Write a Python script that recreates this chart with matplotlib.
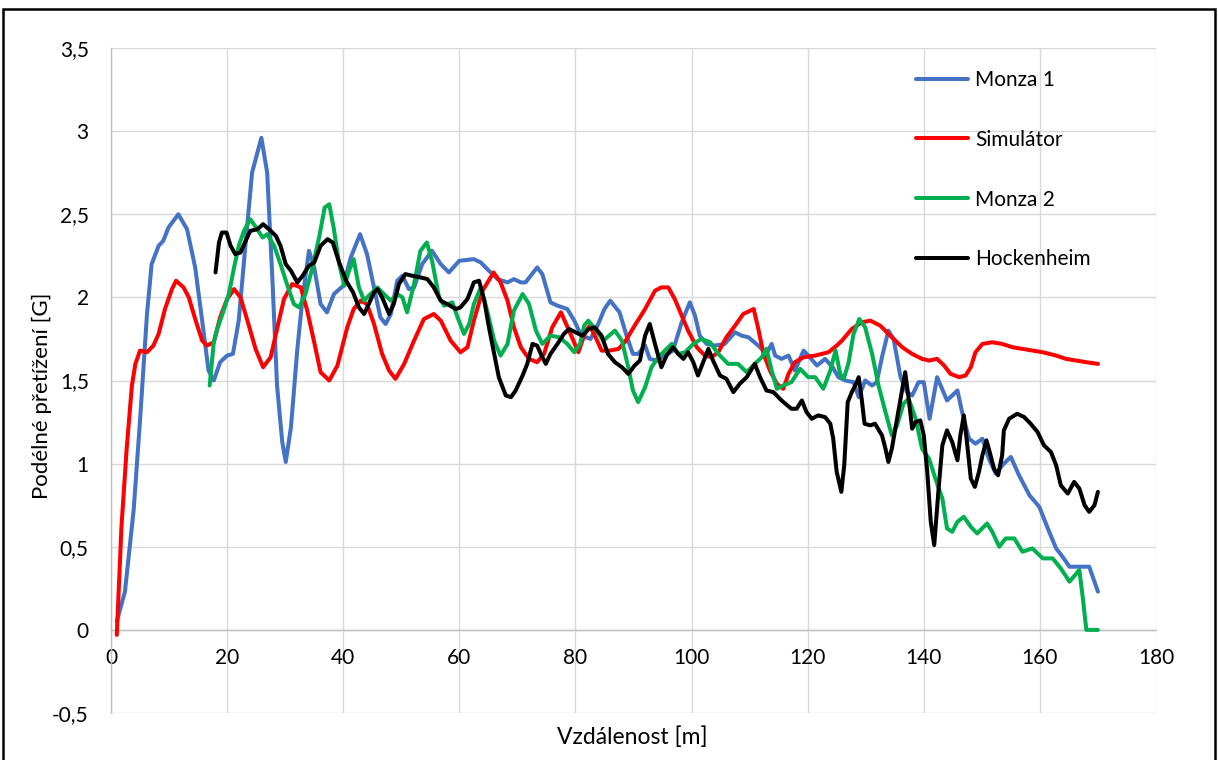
import matplotlib
matplotlib.use("Agg")
import matplotlib.pyplot as plt
from matplotlib.patches import Rectangle
from matplotlib.ticker import FuncFormatter

# ---- data ----
monza1_x = [1, 2.4, 3.9, 5.0, 6.2, 7.0, 8.2, 9.0, 9.9, 11.6, 13.1, 14.5, 15.7, 16.8, 17.7, 18.8,
            20, 21, 22, 23.2, 24.3, 25.9, 26.9, 27.8, 28.6, 29.5, 30.1, 31, 32.1, 33, 34.1, 35,
            36.1, 37.2, 38.4, 40, 41.3, 42.9, 44.1, 45.3, 46.4, 47.3, 48.2, 49.3, 50.2, 51.3,
            52.2, 53.6, 55.3, 56.8, 58.2, 60, 62.5, 63.7, 65.1, 66.6, 68.3, 69.4, 70.6, 71.4,
            72.3, 73.4, 74.3, 75.7, 76.9, 78.6, 79.8, 81, 82.6, 83.8, 85, 86, 87.6, 88.8, 89.9,
            90.8, 92, 92.8, 94, 95.4, 96.8, 98.3, 99.7, 100.6, 101.4, 102.6, 104, 105.7, 107.5,
            108.6, 109.8, 111.5, 112.9, 113.8, 114.4, 115.5, 116.7, 117.8, 119.3, 120.1, 121.6,
            123, 124.3, 125.3, 126.5, 127.9, 128.8, 129.9, 131.1, 131.9, 132.8, 133.9, 134.8,
            136, 137.1, 138, 139.1, 140, 141, 142.3, 144, 145.8, 146.6, 147.8, 148.9, 150.1,
            151.2, 152.4, 153.8, 155, 156.4, 158.2, 159.9, 161.6, 162.8, 163.9, 165.1, 166.8,
            168.5, 170]
monza1_y = [0.05, 0.23, 0.72, 1.26, 1.90, 2.20, 2.31, 2.34, 2.42, 2.50, 2.41, 2.18, 1.86, 1.56,
            1.50, 1.61, 1.65, 1.66, 1.86, 2.33, 2.75, 2.96, 2.75, 2.11, 1.47, 1.13, 1.01, 1.22,
            1.69, 2.00, 2.28, 2.18, 1.96, 1.91, 2.02, 2.07, 2.24, 2.38, 2.26, 2.06, 1.88, 1.84,
            1.90, 2.10, 2.13, 2.05, 2.06, 2.20, 2.28, 2.20, 2.15, 2.22, 2.23, 2.21, 2.16, 2.11,
            2.09, 2.11, 2.09, 2.09, 2.13, 2.18, 2.14, 1.97, 1.95, 1.93, 1.86, 1.77, 1.75, 1.83,
            1.93, 1.98, 1.91, 1.77, 1.66, 1.66, 1.71, 1.63, 1.62, 1.65, 1.68, 1.85, 1.97, 1.89,
            1.77, 1.72, 1.71, 1.72, 1.79, 1.77, 1.76, 1.71, 1.66, 1.72, 1.65, 1.63, 1.65, 1.56,
            1.68, 1.65, 1.59, 1.63, 1.58, 1.52, 1.50, 1.49, 1.40, 1.50, 1.47, 1.49, 1.64, 1.80,
            1.75, 1.52, 1.43, 1.41, 1.49, 1.49, 1.27, 1.52, 1.38, 1.44, 1.31, 1.15, 1.12, 1.15,
            1.03, 0.94, 1.00, 1.04, 0.93, 0.81, 0.74, 0.59, 0.49, 0.44, 0.38, 0.38, 0.38, 0.23]

sim_x = [1, 1.8, 2.7, 3.6, 4.2, 5.0, 6.2, 7.3, 8.2, 9.3, 10.5, 11.2, 12.5, 13.4, 14.5, 15.7, 16.5,
         17.7, 18.8, 20, 21.2, 22.3, 23.5, 24.9, 26.2, 27.5, 28.6, 29.8, 31.2, 32.7, 33.8, 35,
         36.1, 37.6, 39, 40.7, 41.8, 43, 44.1, 45.3, 46.7, 47.9, 49, 50.5, 52.2, 53.9, 55.6,
         56.8, 58.5, 60.2, 61.4, 62.5, 64, 65.9, 67.1, 68.3, 69.4, 70.6, 72, 73.4, 74.6, 76,
         77.5, 78.9, 80.5, 81.8, 82.5, 83.6, 84.5, 85.9, 87.4, 88.5, 90.2, 92, 93.7, 94.8, 96,
         97.1, 98.3, 99.4, 100.9, 102.3, 103.4, 104.6, 106, 107.5, 108.9, 110.1, 110.7, 111.5,
         112.4, 113.5, 114.7, 115.8, 116.7, 117.8, 119.3, 121.3, 123.6, 125, 125.9, 127.6,
         129.3, 130.8, 132.5, 134.5, 136.3, 138, 139.7, 140.9, 142.3, 143.5, 144.6, 146.1,
         147.2, 148.1, 148.9, 150.1, 151.8, 153.5, 155.3, 157, 158.7, 160.5, 162.8, 164.5,
         166.2, 168, 170]
sim_y = [-0.03, 0.62, 1.09, 1.47, 1.60, 1.68, 1.67, 1.71, 1.78, 1.93, 2.05, 2.10, 2.06, 2.00,
         1.87, 1.74, 1.71, 1.73, 1.88, 1.99, 2.05, 2.00, 1.86, 1.69, 1.58, 1.64, 1.81, 1.99,
         2.08, 2.06, 1.92, 1.73, 1.55, 1.50, 1.59, 1.82, 1.93, 1.98, 1.96, 1.84, 1.66, 1.56,
         1.51, 1.60, 1.74, 1.87, 1.90, 1.86, 1.74, 1.67, 1.70, 1.86, 2.04, 2.15, 2.09, 1.98,
         1.82, 1.70, 1.63, 1.61, 1.66, 1.82, 1.91, 1.80, 1.67, 1.80, 1.83, 1.75, 1.68, 1.68,
         1.69, 1.73, 1.83, 1.93, 2.04, 2.06, 2.06, 1.99, 1.89, 1.80, 1.70, 1.65, 1.64, 1.67,
         1.76, 1.83, 1.90, 1.92, 1.93, 1.81, 1.66, 1.56, 1.48, 1.45, 1.54, 1.61, 1.64, 1.65,
         1.67, 1.71, 1.74, 1.81, 1.85, 1.86, 1.83, 1.76, 1.70, 1.66, 1.63, 1.62, 1.63, 1.59,
         1.54, 1.52, 1.53, 1.58, 1.67, 1.72, 1.73, 1.72, 1.70, 1.69, 1.68, 1.67, 1.65, 1.63,
         1.62, 1.61, 1.60]

monza2_x = [17, 17.7, 18.3, 19.4, 20.3, 21.2, 22, 22.9, 24, 25.2, 26.1, 26.9, 28.1, 29.2, 30.4,
            31.5, 32.4, 33.5, 34.7, 35.9, 36.8, 37.6, 38.4, 39.3, 40.2, 41, 41.8, 42.7, 43.6,
            44.4, 45.9, 47, 48.2, 49.3, 50.2, 51, 52.2, 53.3, 54.4, 55.3, 56.5, 57.4, 58.8,
            59.7, 60.8, 61.7, 62.5, 63.7, 64.8, 66, 67.1, 68.3, 69.4, 70.9, 72, 73.2, 74.3,
            75.7, 77.2, 78.6, 79.8, 80.8, 81.5, 82.2, 83.4, 84.8, 86.8, 88, 89.1, 89.9, 90.8,
            92, 93.1, 94.3, 95.7, 96.6, 97.7, 98.9, 100.3, 101.7, 103.2, 104.6, 106.3, 108,
            109.5, 110.9, 112.1, 112.9, 113.8, 114.7, 115.8, 117.2, 118.7, 120.1, 121.3, 122.7,
            123.9, 124.8, 125.6, 126.2, 127, 127.9, 128.9, 129.9, 131.1, 132.2, 133.4, 134.5,
            135.4, 136.5, 137.4, 138.6, 139.7, 140.9, 142, 143.2, 144, 144.9, 145.8, 146.9,
            148.1, 149.2, 150.9, 151.8, 153, 154.1, 155.6, 157, 158.7, 160.5, 162.2, 163.6,
            165.1, 166.8, 167.4, 168, 170]
monza2_y = [1.47, 1.73, 1.81, 1.92, 2.02, 2.18, 2.31, 2.40, 2.47, 2.41, 2.36, 2.38, 2.31, 2.20,
            2.07, 1.96, 1.94, 2.02, 2.18, 2.37, 2.54, 2.56, 2.41, 2.20, 2.07, 2.16, 2.23, 2.06,
            1.98, 2.01, 2.06, 2.02, 1.98, 2.02, 2.00, 1.91, 2.08, 2.28, 2.33, 2.22, 2.00, 1.95,
            1.97, 1.88, 1.78, 1.84, 1.96, 2.06, 1.92, 1.74, 1.65, 1.72, 1.92, 2.02, 1.96, 1.80,
            1.72, 1.77, 1.76, 1.72, 1.67, 1.72, 1.83, 1.86, 1.81, 1.74, 1.80, 1.74, 1.58, 1.44,
            1.37, 1.46, 1.58, 1.64, 1.69, 1.72, 1.66, 1.67, 1.72, 1.75, 1.73, 1.66, 1.60, 1.60,
            1.55, 1.60, 1.64, 1.69, 1.56, 1.45, 1.47, 1.49, 1.57, 1.52, 1.52, 1.45, 1.56, 1.68,
            1.54, 1.51, 1.60, 1.78, 1.87, 1.82, 1.66, 1.47, 1.31, 1.17, 1.23, 1.36, 1.39, 1.27,
            1.09, 1.03, 0.91, 0.79, 0.61, 0.59, 0.65, 0.68, 0.62, 0.58, 0.64, 0.59, 0.50, 0.55,
            0.55, 0.47, 0.49, 0.43, 0.43, 0.37, 0.29, 0.36, 0.19, 0.00, 0.00]

hock_x = [18, 18.6, 19.1, 19.9, 20.6, 21.4, 22.3, 23.2, 24, 25.2, 26.2, 27.2, 28.4, 29.2, 30.1,
          31, 32.1, 33, 34.1, 35, 36.1, 37.3, 38.2, 39.3, 40.5, 41.7, 42.7, 43.6, 44.4, 45.3,
          45.9, 46.7, 47.9, 48.7, 49.6, 50.7, 51.9, 53.3, 54.5, 55.6, 56.8, 57.9, 59.4, 60.2,
          61.4, 62.5, 63.4, 64.3, 65.1, 66, 66.8, 68, 68.9, 69.7, 70.9, 71.7, 72.6, 73.4, 74.3,
          74.9, 75.7, 76.9, 78, 78.9, 80, 81.2, 82.3, 83.3, 84.5, 85.6, 86.8, 88, 89.1, 90.2,
          91.1, 92, 92.8, 93.7, 94.8, 95.7, 96.8, 97.7, 98.6, 99.4, 100.3, 101.1, 102, 102.9,
          103.7, 104.9, 106, 107.2, 108.3, 109.5, 110.9, 111.8, 112.9, 114.1, 115.5, 117.2,
          118.1, 119, 119.8, 120.7, 121.8, 123, 123.9, 124.4, 125, 125.8, 126.3, 126.9, 127.6,
          128.2, 128.8, 129.3, 129.8, 130.8, 131.6, 132.8, 133.4, 133.9, 134.5, 135.4, 136.3,
          136.8, 137.4, 138, 138.6, 139.4, 140, 140.6, 141.2, 141.8, 142.6, 143.2, 144, 144.9,
          145.8, 146.3, 146.9, 147.5, 148.1, 148.8, 149.5, 150.1, 150.8, 151.2, 152.1, 152.8,
          153.5, 153.8, 154.7, 156.1, 157.3, 158.4, 159.6, 160.7, 161.9, 162.8, 163.6, 164.8,
          165.9, 166.8, 167.7, 168.5, 169.4, 170]
hock_y = [2.15, 2.33, 2.39, 2.39, 2.31, 2.26, 2.27, 2.34, 2.40, 2.41, 2.44, 2.41, 2.37, 2.31,
          2.20, 2.16, 2.09, 2.13, 2.19, 2.21, 2.31, 2.35, 2.33, 2.21, 2.10, 2.03, 1.94, 1.90,
          1.96, 2.03, 2.05, 2.00, 1.90, 1.96, 2.08, 2.14, 2.13, 2.12, 2.11, 2.06, 1.98, 1.96,
          1.93, 1.94, 1.99, 2.09, 2.10, 1.98, 1.82, 1.66, 1.52, 1.41, 1.40, 1.44, 1.53, 1.60,
          1.72, 1.71, 1.64, 1.60, 1.66, 1.72, 1.78, 1.81, 1.79, 1.77, 1.81, 1.82, 1.77, 1.66,
          1.61, 1.58, 1.54, 1.59, 1.62, 1.77, 1.84, 1.72, 1.58, 1.65, 1.70, 1.66, 1.63, 1.67,
          1.61, 1.53, 1.61, 1.69, 1.62, 1.53, 1.51, 1.43, 1.48, 1.52, 1.60, 1.52, 1.44, 1.43,
          1.38, 1.33, 1.33, 1.38, 1.31, 1.27, 1.29, 1.28, 1.24, 1.15, 0.95, 0.83, 0.99, 1.37,
          1.43, 1.47, 1.52, 1.39, 1.24, 1.23, 1.24, 1.17, 1.09, 1.01, 1.09, 1.27, 1.45, 1.55,
          1.39, 1.21, 1.25, 1.26, 1.17, 0.95, 0.65, 0.51, 0.87, 1.11, 1.20, 1.13, 1.02, 1.17,
          1.29, 1.11, 0.91, 0.86, 0.95, 1.05, 1.14, 1.09, 0.97, 0.93, 1.05, 1.20, 1.27, 1.30,
          1.28, 1.24, 1.19, 1.11, 1.07, 0.99, 0.87, 0.82, 0.89, 0.85, 0.75, 0.71, 0.75, 0.83]

series_names = ["Monza 1", "Simulátor", "Monza 2", "Hockenheim"]
series_colors = ["#4472C4", "#FF0000", "#00B050", "#000000"]
x_ticks = [0, 20, 40, 60, 80, 100, 120, 140, 160, 180]
y_ticks = [-0.5, 0, 0.5, 1, 1.5, 2, 2.5, 3, 3.5]
x_label = "Vzdálenost [m]"
y_label = "Podélné přetížení [G]"

FONT = ["Lato", "DejaVu Sans"]
plt.rcParams["font.family"] = FONT

W, H = 1218, 760
fig = plt.figure(figsize=(W / 100, H / 100), dpi=100)
fig.patch.set_facecolor("white")
ax = fig.add_axes([111 / W, 1 - 713 / H, (1156 - 111) / W, (713 - 48) / H])

series = [(monza1_x, monza1_y), (sim_x, sim_y), (monza2_x, monza2_y), (hock_x, hock_y)]
handles = []
for (xs, ys), name, col in zip(series, series_names, series_colors):
    h, = ax.plot(xs, ys, color=col, lw=2.9, solid_capstyle="round", solid_joinstyle="round",
                 label=name, zorder=3)
    handles.append(h)

ax.set_xlim(0, 180)
ax.set_ylim(-0.5, 3.5)
ax.set_xticks(x_ticks)
ax.set_yticks(y_ticks)

def fmt(v, pos):
    return ("%g" % v).replace(".", ",")
ax.xaxis.set_major_formatter(FuncFormatter(fmt))
ax.yaxis.set_major_formatter(FuncFormatter(fmt))

ax.grid(True, color="#d9d9d9", lw=1.0, zorder=0)
ax.set_axisbelow(True)
for s in ["top", "right"]:
    ax.spines[s].set_visible(False)
ax.spines["bottom"].set_position(("data", 0))
ax.spines["bottom"].set_color("#bfbfbf")
ax.spines["left"].set_color("#bfbfbf")
ax.spines["bottom"].set_linewidth(1.0)
ax.spines["left"].set_linewidth(1.0)
ax.tick_params(axis="both", length=0, labelsize=15, colors="#000000")
ax.tick_params(axis="y", pad=16)
ax.tick_params(axis="x", pad=13)

fig.text(632 / W, 1 - 737 / H, x_label, ha="center", va="center", fontsize=16.5)
fig.text(42 / W, 1 - 395.5 / H, y_label, ha="center", va="center", rotation=90, fontsize=16)

leg = ax.legend(handles=handles, loc="upper left", bbox_to_anchor=(916 / W, 1 - 70 / H),
                bbox_transform=fig.transFigure, frameon=False, fontsize=15,
                handlelength=2.5, handletextpad=0.34, labelspacing=1.91, borderpad=0,
                borderaxespad=0)

fig.patches.append(Rectangle((3 / W, -0.01), (1215 - 3) / W, 1 - 9 / H + 0.01,
                             transform=fig.transFigure, fill=False, edgecolor="black",
                             lw=1.8, zorder=10))

fig.savefig("out.png", dpi=100, facecolor="white")
